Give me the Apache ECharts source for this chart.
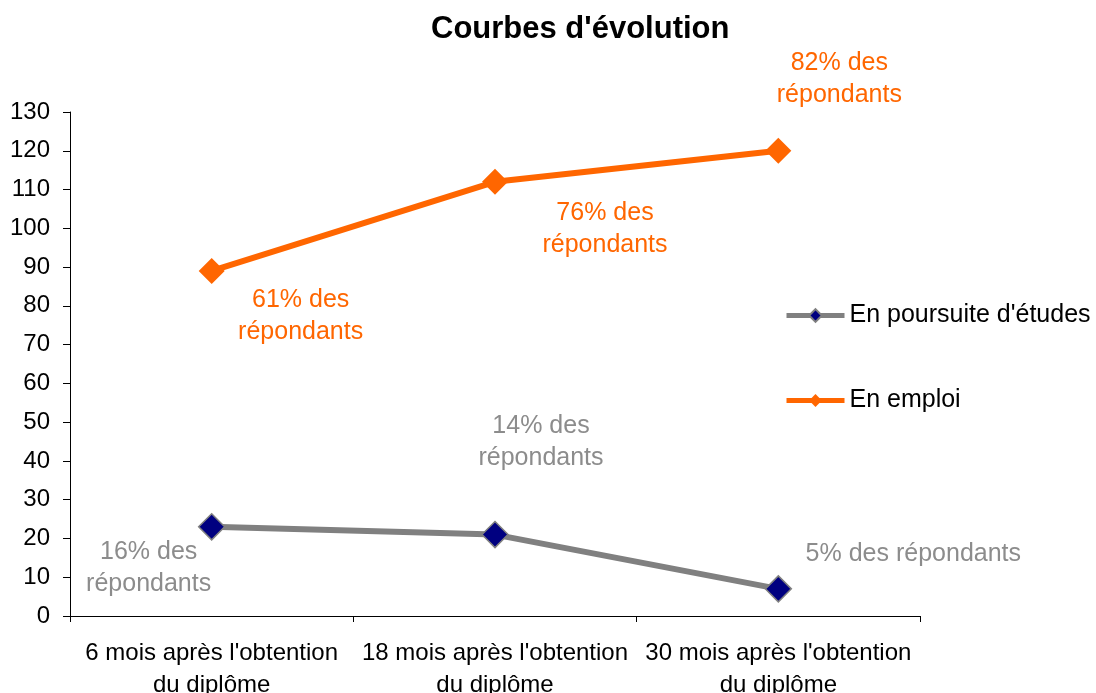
<!DOCTYPE html>
<html>
<head>
<meta charset="utf-8">
<script src="https://cdn.jsdelivr.net/npm/echarts@6/dist/echarts.min.js"></script>
<style>html,body{margin:0;padding:0;background:#fff}#c{width:1096px;height:693px}</style>
</head>
<body>
<div id="c"></div>
<script>
const categories = ["6 mois après l'obtention\ndu diplôme", "18 mois après l'obtention\ndu diplôme", "30 mois après l'obtention\ndu diplôme"];
const seriesNames = ["En poursuite d'études", "En emploi"];
const poursuiteValues = [23, 21, 7];
const emploiValues = [89, 112, 120];
const poursuiteNotes = ["16% des\nrépondants", "14% des\nrépondants", "5% des répondants"];
const emploiNotes = ["61% des\nrépondants", "76% des\nrépondants", "82% des\nrépondants"];

const FONT = 'Liberation Sans, Arial, sans-serif';
const poursuiteOffsets = [[-63, 41], [46, -92], [135, -35]];
const emploiOffsets = [[89, 45], [110, 47], [61, -72]];

function buildData(values, notes, offsets, color) {
  return values.map((v, i) => ({
    value: v,
    label: {
      show: true,
      position: 'inside',
      offset: offsets[i],
      formatter: notes[i],
      color: color,
      fontSize: 25,
      lineHeight: 32,
      fontFamily: FONT,
      align: 'center'
    }
  }));
}

const chart = echarts.init(document.getElementById('c'));
chart.setOption({
  backgroundColor: '#ffffff',
  animation: false,
  title: {
    text: "Courbes d'évolution",
    left: 426,
    top: 9,
    textStyle: { fontSize: 31, fontWeight: 'bold', color: '#000', fontFamily: FONT }
  },
  legend: {
    orient: 'vertical',
    left: 779,
    top: 298,
    itemWidth: 58,
    itemHeight: 16,
    itemGap: 60,
    lineStyle: { width: 5 },
    textStyle: { fontSize: 25, color: '#000', fontFamily: FONT },
    data: seriesNames
  },
  grid: { left: 70, right: 176, top: 112, bottom: 77, containLabel: false, outerBoundsMode: 'none' },
  xAxis: {
    type: 'category',
    data: categories,
    boundaryGap: true,
    axisLine: { show: true, lineStyle: { color: '#000', width: 1 } },
    axisTick: { show: true, length: 6, lineStyle: { color: '#000' } },
    axisLabel: { color: '#000', fontSize: 24, lineHeight: 32, margin: 21, fontFamily: FONT, interval: 0 },
    splitLine: { show: false }
  },
  yAxis: {
    type: 'value',
    min: 0,
    max: 130,
    interval: 10,
    axisLine: { show: true, lineStyle: { color: '#000', width: 1 } },
    axisTick: { show: true, length: 7, lineStyle: { color: '#000' } },
    axisLabel: { color: '#000', fontSize: 24, margin: 20, fontFamily: FONT },
    splitLine: { show: false }
  },
  series: [
    {
      name: seriesNames[0],
      type: 'line',
      data: buildData(poursuiteValues, poursuiteNotes, poursuiteOffsets, '#8c8c8c'),
      symbol: 'diamond',
      symbolSize: 26,
      lineStyle: { color: '#808080', width: 6 },
      itemStyle: { color: '#000080', borderColor: '#808080', borderWidth: 1.5 },
      z: 3
    },
    {
      name: seriesNames[1],
      type: 'line',
      data: buildData(emploiValues, emploiNotes, emploiOffsets, '#ff6600'),
      symbol: 'diamond',
      symbolSize: 26,
      lineStyle: { color: '#ff6600', width: 6 },
      itemStyle: { color: '#ff6600', borderColor: '#ff6600', borderWidth: 0 },
      z: 3
    }
  ]
});
</script>
</body>
</html>
